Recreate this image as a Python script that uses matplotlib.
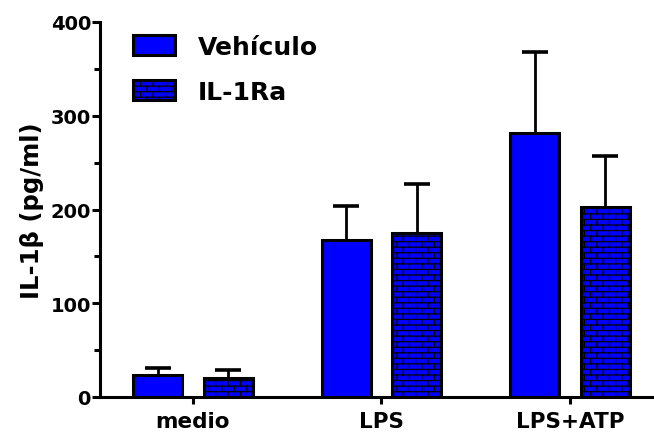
import numpy as np
import matplotlib
matplotlib.use("Agg")
import matplotlib.pyplot as plt
import matplotlib.hatch as mhatch
from matplotlib.path import Path
from matplotlib.ticker import MultipleLocator

# ---- data ----
categories = ["medio", "LPS", "LPS+ATP"]
series_names = ["Vehículo", "IL-1Ra"]
vehiculo_vals = [23.5, 167.5, 281.5]
vehiculo_err = [7.5, 36.0, 86.0]
il1ra_vals = [20.0, 175.0, 203.0]
il1ra_err = [9.0, 52.0, 54.0]
y_ticks = [0, 100, 200, 300, 400]


# ---- custom brick hatch ----
class BrickHatch(mhatch.HatchPatternBase):
    R, C = 18, 8

    def __init__(self, hatch, density):
        self.on = '+' in hatch
        R, C = self.R, self.C
        self.num_vertices = (R * 2 + (R + 1) * C * 2) if self.on else 0

    def set_vertices_and_codes(self, vertices, codes):
        R, C = self.R, self.C
        segs = []
        for r in range(R):
            y = (r + 0.5) / R
            segs.append(((0.0, y), (1.0, y)))
        for r in range(-1, R):
            y0 = (r + 0.5) / R
            y1 = (r + 1.5) / R
            off = 0.75 / C if r % 2 else 0.25 / C
            for k in range(C):
                x = k / C + off
                segs.append(((x, y0), (x, y1)))
        i = 0
        for a, b in segs:
            vertices[i] = a
            vertices[i + 1] = b
            codes[i] = Path.MOVETO
            codes[i + 1] = Path.LINETO
            i += 2


mhatch._hatch_types = [BrickHatch]

plt.rcParams['font.family'] = ['DejaVu Sans']
plt.rcParams['font.weight'] = 'bold'
plt.rcParams['hatch.linewidth'] = 0.85

W, H = 654, 439
fig = plt.figure(figsize=(W / 100, H / 100), dpi=100)
ax = fig.add_axes([100 / W, 1 - 398 / H, 554 / W, 375 / H])

x = np.arange(len(categories))
off = 0.187
bw = 0.26
blue = '#0000FF'

b1 = ax.bar(x - off, vehiculo_vals, bw, color=blue, edgecolor='black',
            linewidth=2.2, zorder=3, label=series_names[0])
b2 = ax.bar(x + off, il1ra_vals, bw, color=blue, edgecolor='black',
            linewidth=2.2, hatch='+', zorder=3, label=series_names[1])

for xs, vals, errs in [(x - off, vehiculo_vals, vehiculo_err),
                       (x + off, il1ra_vals, il1ra_err)]:
    eb = ax.errorbar(xs, vals, yerr=[np.zeros(len(errs)), errs], fmt='none',
                     ecolor='black', elinewidth=2.0, capsize=9.5, capthick=2.6,
                     zorder=2)
    eb[1][0].set_visible(False)
    for cl in eb[1]:
        cl.set_solid_capstyle('round')

ax.set_xlim(-0.493, 2.446)
ax.set_ylim(0, 400)
ax.set_yticks(y_ticks)
ax.yaxis.set_minor_locator(MultipleLocator(50))
ax.set_xticks(x)
ax.set_xticklabels(categories, fontsize=15.5, fontweight='bold')
ax.tick_params(axis='y', which='major', length=5.5, width=2.2, labelsize=14, pad=1)
ax.tick_params(axis='y', which='minor', length=4.5, width=2.2)
ax.tick_params(axis='x', which='major', length=5, width=2.2, pad=5)
for lab in ax.get_yticklabels():
    lab.set_fontweight('bold')

for s in ['top', 'right']:
    ax.spines[s].set_visible(False)
for s in ['left', 'bottom']:
    ax.spines[s].set_linewidth(2.2)

ax.set_ylabel('IL-1β (pg/ml)', fontsize=17.5, fontweight='bold', labelpad=5)

leg = ax.legend(loc='upper left', bbox_to_anchor=(0.06, 0.966), frameon=False,
                fontsize=18, handlelength=1.68, handleheight=0.84,
                handletextpad=0.9, labelspacing=0.85, borderpad=0,
                borderaxespad=0)
for t in leg.get_texts():
    t.set_fontweight('bold')

fig.savefig('out.png', dpi=100)
